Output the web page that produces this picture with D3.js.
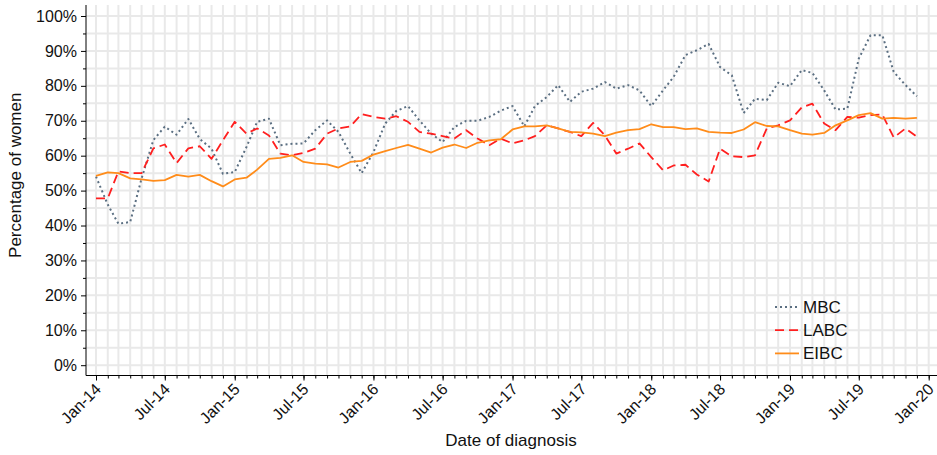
<!DOCTYPE html>
<html>
<head>
<meta charset="utf-8">
<script src="https://cdn.jsdelivr.net/npm/d3@7"></script>
<style>
  html, body { margin: 0; padding: 0; background: #fff; }
  svg { display: block; font-family: "Liberation Sans", Arial, sans-serif; }
  .tick text { fill: #111; }
</style>
</head>
<body>
<svg id="chart" width="937" height="455"></svg>
<script>
// Monthly share of women, Jan 2014 – Dec 2019
const startMonth = new Date(2014, 0, 1);
const endMonth = new Date(2020, 0, 1);
const months = d3.timeMonth.range(startMonth, endMonth);

const mbc = [
  54.0, 46.0, 40.5, 41.0, 53.5, 64.5, 68.3, 66.0, 70.5, 64.8, 62.0, 54.8,
  55.3, 62.5, 69.7, 70.6, 63.0, 63.4, 63.5, 67.3, 70.1, 66.8, 60.6, 55.0,
  61.0, 69.2, 72.8, 74.2, 70.1, 66.3, 63.9, 68.2, 70.0, 70.0, 71.1, 72.9,
  74.2, 68.4, 74.2, 76.8, 80.2, 75.4, 78.3, 79.2, 81.1, 79.2, 80.2, 78.7,
  74.2, 78.7, 82.6, 88.8, 90.2, 92.0, 85.4, 83.0, 72.2, 76.3, 75.9, 80.9,
  79.9, 84.5, 83.7, 78.7, 73.2, 73.5, 87.8, 94.5, 94.5, 84.0, 80.2, 77.0
];
const labc = [
  47.8, 47.8, 55.5, 55.0, 55.0, 62.1, 63.2, 57.9, 62.1, 62.7, 59.1, 64.4,
  69.7, 66.3, 67.8, 65.8, 60.6, 60.1, 60.8, 62.0, 66.3, 67.8, 68.4, 71.9,
  71.1, 70.6, 71.3, 69.7, 66.8, 66.3, 65.6, 64.9, 67.3, 64.9, 63.0, 64.9,
  63.5, 64.4, 65.6, 68.7, 67.8, 66.8, 65.6, 69.4, 65.8, 60.6, 62.0, 63.5,
  59.6, 55.8, 57.2, 57.4, 54.6, 52.6, 62.0, 59.8, 59.6, 60.1, 67.8, 68.7,
  70.1, 73.8, 74.9, 69.2, 67.3, 71.1, 70.9, 71.6, 71.8, 65.2, 67.8, 65.4
];
const eibc = [
  54.2, 55.2, 55.0, 53.5, 53.2, 52.8, 53.0, 54.5, 54.0, 54.5, 52.7, 51.2,
  53.2, 53.7, 56.0, 59.1, 59.4, 60.1, 58.2, 57.7, 57.5, 56.6, 58.2, 58.5,
  60.3, 61.3, 62.2, 63.1, 62.0, 60.9, 62.3, 63.2, 62.2, 63.7, 64.4, 64.7,
  67.5, 68.4, 68.4, 68.7, 67.8, 66.8, 66.7, 66.3, 65.6, 66.6, 67.3, 67.6,
  69.0, 68.2, 68.2, 67.6, 67.8, 66.8, 66.6, 66.5, 67.5, 69.6, 68.5, 68.4,
  67.3, 66.3, 66.0, 66.5, 68.7, 70.1, 71.6, 72.2, 70.6, 70.8, 70.6, 70.8
];

const seriesNames = ["MBC", "LABC", "EIBC"];
const seriesValues = [mbc, labc, eibc];
const seriesColors = ["#5b6f82", "#ff1f1f", "#ff8c1a"];
const seriesDash = ["2,3", "9,5", null];
const seriesWidth = [2, 1.8, 1.8];

const yMajor = d3.range(0, 11).map(d => d / 10);
const yMinor = d3.range(0, 10).map(d => d / 10 + 0.05);
const yGrid = d3.range(0, 21).map(d => d / 20);

const svg = d3.select("#chart");

const plotLeft = 86, plotRight = 937, plotTop = 5, plotBottom = 375.5;

const x = d3.scaleTime().domain([startMonth, endMonth]).range([96, 928.7]);
const y = d3.scaleLinear().domain([0, 1]).range([365.2, 16]);

const gridMonths = d3.timeMonth.range(startMonth, d3.timeMonth.offset(endMonth, 1));
const majorMonths = d3.timeMonth.every(6).range(startMonth, d3.timeMonth.offset(endMonth, 1));

// grid
const grid = svg.append("g").attr("stroke", "#e9e9e9").attr("stroke-width", 2);
grid.selectAll("line.v").data(gridMonths).join("line")
  .attr("class", "v")
  .attr("x1", d => x(d)).attr("x2", d => x(d))
  .attr("y1", plotTop).attr("y2", plotBottom);
grid.selectAll("line.h").data(yGrid).join("line")
  .attr("class", "h")
  .attr("x1", plotLeft).attr("x2", plotRight)
  .attr("y1", d => y(d)).attr("y2", d => y(d));

// y axis
const yAxis = svg.append("g").attr("transform", `translate(${plotLeft},0)`)
  .call(d3.axisLeft(y).tickValues(yMajor).tickSize(5).tickPadding(4).tickFormat(d3.format(".0%")));
yAxis.select(".domain").remove();
yAxis.selectAll("text").attr("font-size", 16).attr("font-family", "Liberation Sans, Arial, sans-serif");
const yAxisMinor = svg.append("g").attr("transform", `translate(${plotLeft},0)`)
  .call(d3.axisLeft(y).tickValues(yMinor).tickSize(3).tickFormat(""));
yAxisMinor.select(".domain").remove();

// x axis
const xAxis = svg.append("g").attr("transform", `translate(0,${plotBottom})`)
  .call(d3.axisBottom(x).tickValues(majorMonths).tickSize(5).tickFormat(d3.timeFormat("%b-%y")));
xAxis.select(".domain").remove();
xAxis.selectAll("text")
  .attr("font-size", 16)
  .attr("font-family", "Liberation Sans, Arial, sans-serif")
  .attr("text-anchor", "end")
  .attr("dy", null)
  .attr("transform", "translate(0,9) rotate(-45)");
const xAxisMinor = svg.append("g").attr("transform", `translate(0,${plotBottom})`)
  .call(d3.axisBottom(x).tickValues(gridMonths).tickSize(3).tickFormat(""));
xAxisMinor.select(".domain").remove();

svg.append("line").attr("x1", plotLeft).attr("x2", plotLeft).attr("y1", plotTop).attr("y2", plotBottom)
  .attr("stroke", "#000").attr("stroke-width", 1);
svg.append("line").attr("x1", plotLeft).attr("x2", plotRight).attr("y1", plotBottom).attr("y2", plotBottom)
  .attr("stroke", "#000").attr("stroke-width", 1);

// series lines
const line = d3.line().x((d, i) => x(months[i])).y(d => y(d / 100));
seriesValues.forEach((vals, k) => {
  svg.append("path").datum(vals)
    .attr("fill", "none")
    .attr("stroke", seriesColors[k])
    .attr("stroke-width", seriesWidth[k])
    .attr("stroke-dasharray", seriesDash[k])
    .attr("stroke-linejoin", "round")
    .attr("d", line);
});

// axis titles
svg.append("text")
  .attr("transform", `translate(21,${(plotTop + plotBottom) / 2 - 15}) rotate(-90)`)
  .attr("text-anchor", "middle").attr("font-size", 17).attr("fill", "#111")
  .text("Percentage of women");
svg.append("text")
  .attr("x", 511).attr("y", 446)
  .attr("text-anchor", "middle").attr("font-size", 17).attr("fill", "#111")
  .text("Date of diagnosis");

// legend
const legend = svg.append("g");
seriesNames.forEach((name, k) => {
  const ly = 307 + k * 23.2;
  legend.append("line")
    .attr("x1", 775).attr("x2", 799).attr("y1", ly).attr("y2", ly)
    .attr("stroke", seriesColors[k]).attr("stroke-width", seriesWidth[k])
    .attr("stroke-dasharray", seriesDash[k]);
  legend.append("text")
    .attr("x", 803).attr("y", ly + 6)
    .attr("font-size", 17).attr("fill", "#111")
    .text(name);
});
</script>
</body>
</html>
